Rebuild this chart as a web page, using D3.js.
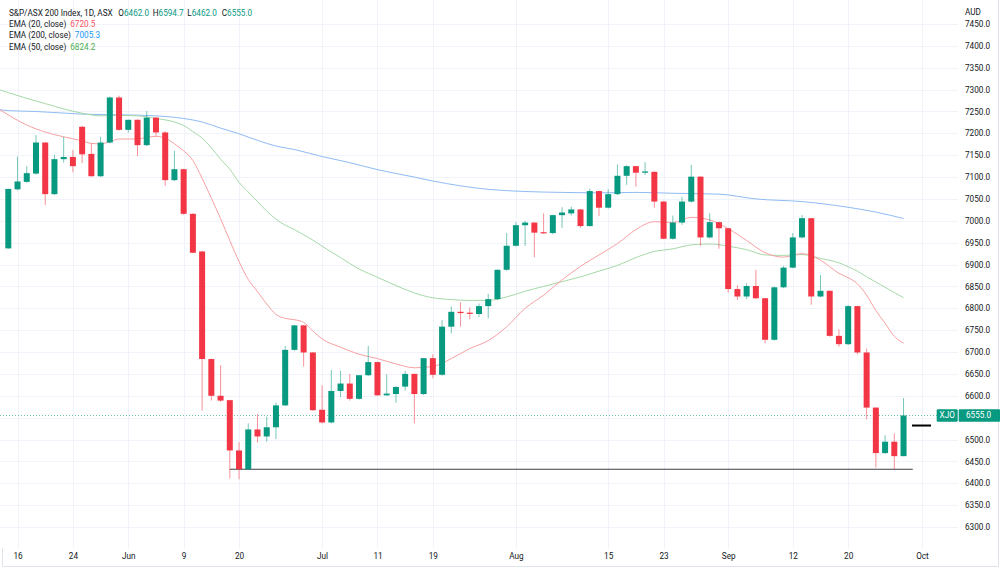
<!DOCTYPE html>
<html><head><meta charset="utf-8">
<script src="https://cdn.jsdelivr.net/npm/d3@7"></script>
<style>
html,body{margin:0;padding:0;background:#fff;}
svg{display:block;font-family:Roboto,"Open Sans",sans-serif;}
</style></head><body>
<svg id="chart" width="1000" height="569"></svg>
<script>
// ---------- data ----------
const dates = [
"2022-05-13","2022-05-16","2022-05-17","2022-05-18","2022-05-19","2022-05-20","2022-05-23","2022-05-24","2022-05-25","2022-05-26",
"2022-05-27","2022-05-30","2022-05-31","2022-06-01","2022-06-02","2022-06-03","2022-06-06","2022-06-07","2022-06-08","2022-06-09",
"2022-06-10","2022-06-14","2022-06-15","2022-06-16","2022-06-17","2022-06-20","2022-06-21","2022-06-22","2022-06-23","2022-06-24",
"2022-06-27","2022-06-28","2022-06-29","2022-06-30","2022-07-01","2022-07-04","2022-07-05","2022-07-06","2022-07-07","2022-07-08",
"2022-07-11","2022-07-12","2022-07-13","2022-07-14","2022-07-15","2022-07-18","2022-07-19","2022-07-20","2022-07-21","2022-07-22",
"2022-07-25","2022-07-26","2022-07-27","2022-07-28","2022-07-29","2022-08-01","2022-08-02","2022-08-03","2022-08-04","2022-08-05",
"2022-08-08","2022-08-09","2022-08-10","2022-08-11","2022-08-12","2022-08-15","2022-08-16","2022-08-17","2022-08-18","2022-08-19",
"2022-08-22","2022-08-23","2022-08-24","2022-08-25","2022-08-26","2022-08-29","2022-08-30","2022-08-31","2022-09-01","2022-09-02",
"2022-09-05","2022-09-06","2022-09-07","2022-09-08","2022-09-09","2022-09-12","2022-09-13","2022-09-14","2022-09-15","2022-09-16",
"2022-09-19","2022-09-20","2022-09-21","2022-09-23","2022-09-26","2022-09-27","2022-09-28","2022-09-29"];
const openV = [
6937,7072,7089,7108,7179,7061,7141,7146,7215,7153,
7102,7179,7282,7208,7231,7173,7236,7202,7093,7118,
7016,6930,6684,6600,6590,6475,6432,6523,6507,6528,
6578,6705,6761,6699,6568,6539,6611,6628,6593,6647,
6677,6601,6604,6621,6650,6604,6686,6648,6758,6792,
6790,6787,6805,6821,6888,6943,6990,6996,6974,6972,
7013,7017,7026,6988,7068,7030,7061,7103,7125,7110,
7112,7044,6959,6996,7044,7101,6962,6997,6983,6844,
6827,6851,6823,6728,6848,6893,6962,7006,6827,6840,
6737,6718,6805,6699,6573,6469,6495,6462];
const highV = [
7073,7147,7125,7196,7180,7151,7192,7162,7217,7177,
7192,7284,7286,7231,7232,7251,7237,7205,7160,7119,
7017,6931,6685,6670,6591,6494,6537,6558,6552,6584,
6714,6762,6762,6700,6624,6659,6657,6650,6647,6714,
6678,6649,6622,6657,6651,6686,6695,6773,6804,6814,
6802,6811,6833,6889,6972,6997,7000,6997,7017,7014,
7031,7032,7027,7074,7069,7072,7129,7127,7126,7134,
7113,7045,7012,7055,7128,7102,7017,6998,6984,6853,
6857,6888,6824,6850,6897,6972,7013,7007,6876,6841,
6752,6807,6806,6708,6574,6510,6514,6594.7];
const lowV = [
6936,7070,7087,7106,7036,7059,7133,7111,7132,7101,
7100,7177,7206,7202,7148,7171,7194,7080,7091,7014,
6926,6566,6589,6586,6411,6409,6431,6493,6495,6501,
6577,6703,6667,6566,6537,6537,6597,6589,6591,6645,
6600,6600,6584,6612,6537,6602,6640,6646,6743,6758,
6775,6780,6777,6819,6886,6941,6943,6917,6971,6969,
6984,7012,6984,6987,7011,7028,7059,7082,7078,7105,
7030,6958,6957,6991,7042,6943,6960,6936,6836,6819,
6821,6821,6720,6726,6846,6891,6960,6808,6825,6735,
6712,6716,6695,6546,6436,6467,6432,6462];
const closeV = [
7073,7090,7109,7179,7061,7141,7146,7125,7152,7102,
7179,7282,7208,7231,7173,7236,7202,7093,7118,7016,
6927,6684,6600,6589,6475,6432,6523,6507,6528,6578,
6705,6761,6699,6567,6539,6611,6628,6593,6647,6677,
6601,6605,6620,6650,6604,6686,6648,6758,6792,6789,
6788,6805,6821,6888,6943,6990,6996,6973,6972,7013,
7019,7026,6988,7068,7030,7061,7103,7125,7110,7113,
7044,6959,6996,7044,7101,6962,6997,6983,6844,6827,
6851,6823,6728,6848,6893,6962,7006,6827,6840,6737,
6718,6805,6699,6573,6469,6495,6462,6555];

// EMA readings [date, value]
const ema20 = [["2022-05-12",7255],["2022-05-13",7242],["2022-05-17",7219],["2022-05-19",7203],["2022-05-23",7192],["2022-05-25",7183],["2022-05-26",7177],["2022-05-27",7176],["2022-05-30",7181],["2022-05-31",7187],["2022-06-02",7187],["2022-06-03",7191],["2022-06-06",7193],["2022-06-07",7189],["2022-06-08",7176],["2022-06-09",7160],["2022-06-10",7138],["2022-06-14",7097],["2022-06-15",7052],["2022-06-16",7005],["2022-06-17",6955],["2022-06-20",6907],["2022-06-21",6866],["2022-06-22",6838],["2022-06-23",6810],["2022-06-24",6786],["2022-06-27",6777],["2022-06-28",6774],["2022-06-29",6768],["2022-06-30",6748],["2022-07-01",6730],["2022-07-05",6711],["2022-07-07",6695],["2022-07-11",6685],["2022-07-13",6673],["2022-07-15",6664],["2022-07-19",6667],["2022-07-21",6685],["2022-07-25",6708],["2022-07-27",6726],["2022-07-29",6758],["2022-08-02",6800],["2022-08-04",6830],["2022-08-08",6865],["2022-08-10",6896],["2022-08-12",6922],["2022-08-16",6948],["2022-08-18",6980],["2022-08-22",6998],["2022-08-24",6996],["2022-08-26",7008],["2022-08-30",7002],["2022-09-01",6982],["2022-09-05",6955],["2022-09-07",6927],["2022-09-09",6917],["2022-09-13",6925],["2022-09-15",6910],["2022-09-19",6880],["2022-09-20",6870],["2022-09-21",6856],["2022-09-23",6830],["2022-09-26",6795],["2022-09-27",6766],["2022-09-28",6736],["2022-09-29",6720.5]];
const ema50 = [["2022-05-12",7300],["2022-05-13",7293],["2022-05-17",7280],["2022-05-19",7268],["2022-05-23",7256],["2022-05-25",7246],["2022-05-27",7240],["2022-05-31",7241],["2022-06-02",7240],["2022-06-06",7234],["2022-06-08",7226],["2022-06-09",7218],["2022-06-10",7204],["2022-06-14",7189],["2022-06-15",7167],["2022-06-16",7141],["2022-06-17",7118],["2022-06-20",7088],["2022-06-21",7066],["2022-06-22",7044],["2022-06-23",7022],["2022-06-24",7004],["2022-06-27",6990],["2022-06-28",6980],["2022-06-29",6968],["2022-06-30",6956],["2022-07-01",6942],["2022-07-05",6916],["2022-07-07",6890],["2022-07-11",6871],["2022-07-13",6852],["2022-07-15",6835],["2022-07-19",6824],["2022-07-21",6820],["2022-07-25",6818],["2022-07-27",6818],["2022-07-29",6826],["2022-08-02",6839],["2022-08-04",6850],["2022-08-08",6861],["2022-08-10",6872],["2022-08-12",6885],["2022-08-16",6898],["2022-08-18",6916],["2022-08-22",6930],["2022-08-24",6936],["2022-08-26",6945],["2022-08-30",6947],["2022-09-01",6942],["2022-09-05",6934],["2022-09-07",6922],["2022-09-09",6921],["2022-09-13",6923],["2022-09-15",6914],["2022-09-19",6904],["2022-09-20",6895],["2022-09-21",6885],["2022-09-23",6872],["2022-09-26",6860],["2022-09-27",6848],["2022-09-28",6836],["2022-09-29",6824.2]];
const ema200 = [["2022-05-12",7254],["2022-05-13",7252],["2022-05-18",7250],["2022-05-25",7244],["2022-06-01",7242],["2022-06-06",7240],["2022-06-09",7234],["2022-06-14",7226],["2022-06-16",7212],["2022-06-20",7199],["2022-06-22",7184],["2022-06-24",7171],["2022-06-28",7163],["2022-07-01",7147],["2022-07-06",7133],["2022-07-11",7117],["2022-07-15",7100],["2022-07-19",7091],["2022-07-22",7080],["2022-07-27",7072],["2022-08-02",7067],["2022-08-08",7065],["2022-08-12",7064],["2022-08-18",7065],["2022-08-24",7063],["2022-08-31",7061],["2022-09-06",7050],["2022-09-13",7044],["2022-09-20",7031],["2022-09-26",7020],["2022-09-29",7005.3]];

const xTickDates = ["2022-05-16","2022-05-24","2022-06-01","2022-06-09","2022-06-20","2022-07-01","2022-07-11","2022-07-19","2022-08-01","2022-08-15","2022-08-23","2022-09-01","2022-09-12","2022-09-20","2022-10-03"];
const xTickLabels = ["16","24","Jun","9","20","Jul","11","19","Aug","15","23","Sep","12","20","Oct"];
const yTicks = [6300,6350,6400,6450,6500,6600,6650,6700,6750,6800,6850,6900,6950,7000,7050,7100,7150,7200,7250,7300,7350,7400,7450];
const supportLine = {from:"2022-06-17", to:"2022-09-30", value:6432};
const marker = {date:"2022-10-03", value:6532};
const symbol = "XJO";
const legendTitle = "S&P/ASX 200 Index, 1D, ASX";
const emaNames = ["EMA (20, close)","EMA (200, close)","EMA (50, close)"];

// ---------- layout ----------
const W = 1000, H = 569;
const plotR = 958, plotB = 546;
const UP = "#089981", DOWN = "#F23645";
const svg = d3.select("#chart");

const axisDates = ["2022-05-12", ...dates, "2022-09-30", "2022-10-03"];
const x = d3.scalePoint().domain(axisDates).range([-0.93, 922.0]);
const y = d3.scaleLinear().domain([6300, 7450]).range([527, 24]);

svg.append("rect").attr("width",W).attr("height",H).attr("fill","#fff");

const defs = svg.append("defs");
defs.append("clipPath").attr("id","plotClip").append("rect").attr("x",0).attr("y",0).attr("width",plotR).attr("height",plotB);

// grid
const grid = svg.append("g");
grid.selectAll("line.h").data(yTicks.concat([6550])).join("line")
  .attr("x1",0).attr("x2",plotR).attr("y1",d=>Math.round(y(d))+0.5).attr("y2",d=>Math.round(y(d))+0.5)
  .attr("stroke","#f0f3fa").attr("stroke-width",1);
grid.selectAll("line.v").data(xTickDates).join("line")
  .attr("x1",d=>Math.round(x(d))+0.5).attr("x2",d=>Math.round(x(d))+0.5).attr("y1",0).attr("y2",plotB+2)
  .attr("stroke","#f0f3fa").attr("stroke-width",1);

const plot = svg.append("g").attr("clip-path","url(#plotClip)");

// EMA lines
const line = d3.line().x(d=>x(d[0])).y(d=>y(d[1])).curve(d3.curveMonotoneX);
[[ema200,"#8fbbf4"],[ema50,"#a6d8a8"],[ema20,"#f8a0a3"]].forEach(([data,col])=>{
  plot.append("path").datum(data).attr("d",line).attr("fill","none").attr("stroke",col).attr("stroke-width",1);
});

// last price dotted line
const lastY = y(closeV[closeV.length-1]);
plot.append("line").attr("x1",0).attr("x2",937).attr("y1",Math.round(lastY)+0.5).attr("y2",Math.round(lastY)+0.5)
  .attr("stroke","#6cc2b2").attr("stroke-width",1).attr("stroke-dasharray","1,2");

// support line
plot.append("line").attr("x1",x(supportLine.from)).attr("x2",x(supportLine.to))
  .attr("y1",y(supportLine.value)).attr("y2",y(supportLine.value))
  .attr("stroke","#3d3f45").attr("stroke-width",1.2);

// candles
const candles = dates.map((d,i)=>({d,o:openV[i],h:highV[i],l:lowV[i],c:closeV[i]}));
const cg = plot.append("g");
cg.selectAll("line.wick").data(candles).join("line")
  .attr("x1",d=>x(d.d)).attr("x2",d=>x(d.d)).attr("y1",d=>y(d.h)).attr("y2",d=>y(d.l))
  .attr("stroke",d=>d.c>=d.o?UP:DOWN).attr("stroke-opacity",0.55).attr("stroke-width",1);
cg.selectAll("rect.body").data(candles).join("rect")
  .attr("x",d=>x(d.d)-3).attr("width",6)
  .attr("y",d=>y(Math.max(d.o,d.c)))
  .attr("height",d=>Math.max(1.2,Math.abs(y(d.o)-y(d.c))))
  .attr("fill",d=>d.c>=d.o?UP:DOWN);

// marker
plot.append("line").attr("x1",x(marker.date)-10).attr("x2",x(marker.date)+9)
  .attr("y1",y(marker.value)).attr("y2",y(marker.value)).attr("stroke","#000").attr("stroke-width",2);

// axes
const fs = 8.2;
const yAxis = svg.append("g").attr("transform",`translate(${plotR},0)`)
  .call(d3.axisRight(y).tickValues(yTicks).tickFormat(d3.format(".1f")).tickSize(0).tickPadding(7));
yAxis.select(".domain").remove();
yAxis.selectAll("text").attr("fill","#131722").style("font-size",fs+"px").style("font-family","Roboto,sans-serif");

const xAxis = svg.append("g").attr("transform",`translate(0,${plotB})`)
  .call(d3.axisBottom(x).tickValues(xTickDates).tickFormat((d,i)=>xTickLabels[i]).tickSize(0).tickPadding(7));
xAxis.select(".domain").remove();
xAxis.selectAll("text").attr("fill","#131722").style("font-size",fs+"px").style("font-family","Roboto,sans-serif");

svg.append("text").attr("x",965).attr("y",12).attr("dominant-baseline","central")
  .attr("fill","#131722").style("font-size",fs+"px").text("AUD");

// frame
svg.append("line").attr("x1",998.5).attr("x2",998.5).attr("y1",0).attr("y2",566.5).attr("stroke","#e0e3eb");
svg.append("line").attr("x1",2.5).attr("x2",998.5).attr("y1",566.5).attr("y2",566.5).attr("stroke","#e0e3eb");
svg.append("line").attr("x1",2.5).attr("x2",2.5).attr("y1",548).attr("y2",566.5).attr("stroke","#e0e3eb");

// price labels
svg.append("rect").attr("x",936.7).attr("y",lastY-6.2).attr("width",21).attr("height",12.4).attr("fill",UP).attr("rx",1);
svg.append("text").attr("x",947.2).attr("y",lastY).attr("text-anchor","middle").attr("dominant-baseline","central")
  .attr("fill","#fff").style("font-size",fs+"px").text(symbol);
svg.append("rect").attr("x",958.7).attr("y",lastY-6.2).attr("width",41.3).attr("height",12.4).attr("fill",UP).attr("rx",1);
svg.append("text").attr("x",966).attr("y",lastY).attr("dominant-baseline","central")
  .attr("fill","#fff").style("font-size",fs+"px").text(d3.format(".1f")(closeV[closeV.length-1]));

// legend
const leg = svg.append("g").style("font-size",fs+"px").attr("fill","#131722");
leg.append("text").attr("x",9).attr("y",13.3).attr("dominant-baseline","central").text(legendTitle);
const last = candles[candles.length-1];
const ohlc = [["O",last.o,118.3],["H",last.h,152.7],["L",last.l,187.3],["C",last.c,221.7]];
ohlc.forEach(([k,v,px])=>{
  const t = leg.append("text").attr("x",px).attr("y",13.3).attr("dominant-baseline","central");
  t.append("tspan").text(k);
  t.append("tspan").attr("fill",UP).text(d3.format(".1f")(v));
});
const emaVals = [ema20[ema20.length-1][1], ema200[ema200.length-1][1], ema50[ema50.length-1][1]];
const emaCols = ["#f7525f","#2196f3","#4caf50"];
emaNames.forEach((n,i)=>{
  const t = leg.append("text").attr("x",9).attr("y",24.3+i*11.1).attr("dominant-baseline","central");
  t.append("tspan").text(n);
  t.append("tspan").attr("dx",4).attr("fill",emaCols[i]).text(d3.format(".1f")(emaVals[i]));
});
</script>
</body></html>
